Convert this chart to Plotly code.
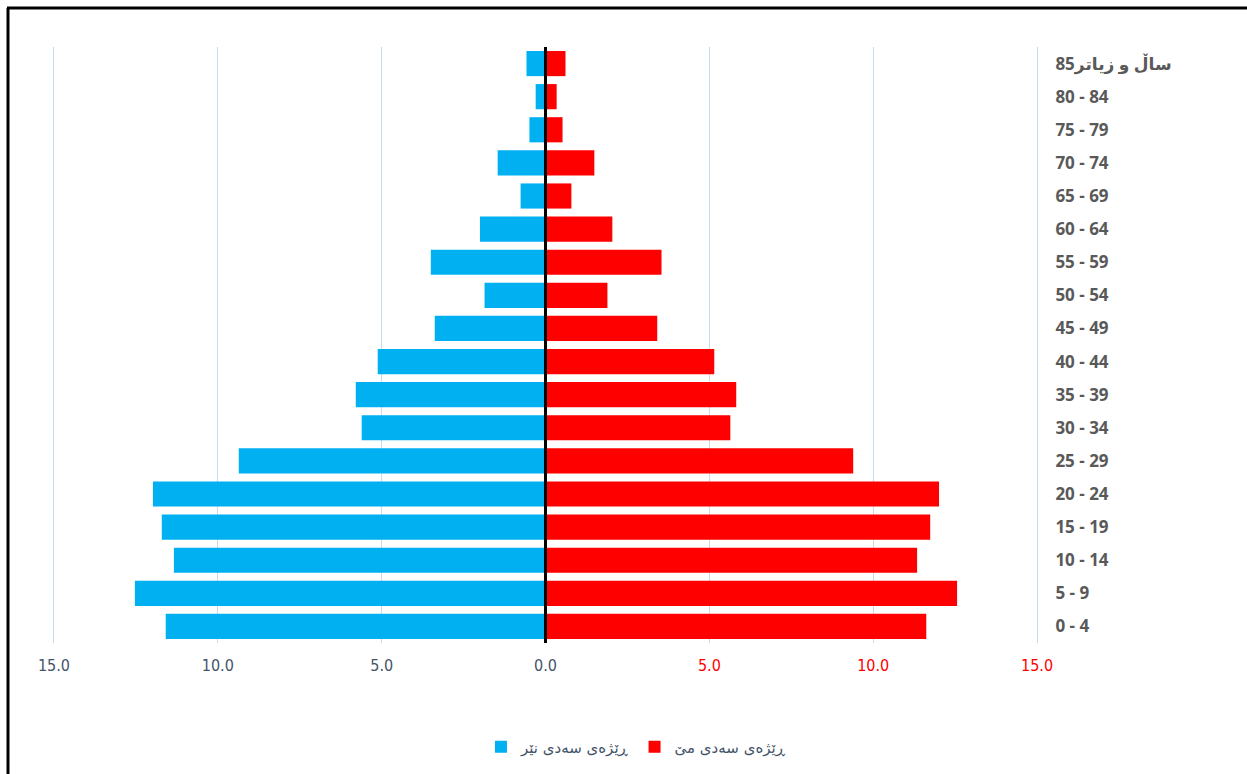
import plotly.graph_objects as go

age_groups = ["0 - 4", "5 - 9", "10 - 14", "15 - 19", "20 - 24", "25 - 29", "30 - 34",
              "35 - 39", "40 - 44", "45 - 49", "50 - 54", "55 - 59", "60 - 64",
              "65 - 69", "70 - 74", "75 - 79", "80 - 84", "\u200e85ساڵ و زیاتر"]
male = [11.59, 12.53, 11.34, 11.71, 11.98, 9.36, 5.61, 5.79, 5.12, 3.38, 1.86, 3.5, 2.0,
        0.76, 1.46, 0.49, 0.3, 0.58]
female = [11.62, 12.56, 11.34, 11.74, 12.01, 9.39, 5.64, 5.82, 5.15, 3.41, 1.89, 3.54, 2.04,
          0.79, 1.49, 0.52, 0.34, 0.61]
male_name = "ڕێژەی سەدی نێر"
female_name = "ڕێژەی سەدی مێ"
tick_vals = [-15, -10, -5, 0, 5, 10, 15]
tick_text = ["<span style='color:#44546A'>15.0</span>", "<span style='color:#44546A'>10.0</span>",
             "<span style='color:#44546A'>5.0</span>", "<span style='color:#44546A'>0.0</span>",
             "<span style='color:#FF0000'>5.0</span>", "<span style='color:#FF0000'>10.0</span>",
             "<span style='color:#FF0000'>15.0</span>"]

fig = go.Figure()
fig.add_trace(go.Bar(y=age_groups, x=[-v for v in male], orientation="h", name=male_name,
                     marker=dict(color="#00B0F0", line=dict(width=0))))
fig.add_trace(go.Bar(y=age_groups, x=female, orientation="h", name=female_name,
                     marker=dict(color="#FF0000", line=dict(width=0))))

W, H = 1247, 774
L, R, T, B = 52, 208, 47, 131
pw = W - L - R
ph = H - T - B

def px_x(p):
    return (p - L) / pw

def px_y(p):
    return 1 - (p - T) / ph

fig.update_layout(
    width=W, height=H,
    margin=dict(l=L, r=R, t=T, b=B),
    paper_bgcolor="white", plot_bgcolor="white",
    barmode="overlay", bargap=0.24,
    showlegend=True,
    legend=dict(orientation="h", xref="container", yref="container", x=0.51, y=0.035,
                xanchor="center", yanchor="middle",
                font=dict(family="DejaVu Sans", size=15, color="#44546A"),
                itemwidth=30, traceorder="normal"),
    xaxis=dict(range=[-15.06, 15.06], tickvals=tick_vals, ticktext=tick_text,
               showgrid=True, gridcolor="#C9DBF2", gridwidth=1, zeroline=False,
               showline=False, ticks="outside", ticklen=8, tickcolor="rgba(0,0,0,0)",
               tickfont=dict(family="DejaVu Sans Condensed, Liberation Sans Narrow, Roboto Condensed, Roboto",
                             size=16)),
    yaxis=dict(side="right", showgrid=False, zeroline=False, showline=False,
               ticks="outside", ticklen=12, tickcolor="rgba(0,0,0,0)",
               tickfont=dict(family="Open Sans, DejaVu Sans", size=17, color="#595959",
                             weight="bold"),
               range=[-0.5, 17.5]),
    shapes=[
        dict(type="line", xref="x", yref="paper", x0=0, x1=0, y0=px_y(643), y1=1.0,
             line=dict(color="black", width=3), layer="above"),
        dict(type="line", xref="paper", yref="paper", x0=px_x(8), x1=px_x(8),
             y0=px_y(8), y1=px_y(780), line=dict(color="black", width=3), layer="above"),
        dict(type="line", xref="paper", yref="paper", x0=px_x(7), x1=px_x(1260),
             y0=px_y(8), y1=px_y(8), line=dict(color="black", width=3), layer="above"),
    ],
)

fig.write_html("out.html", config={"displayModeBar": False},
               post_script="document.body.style.margin='0px';document.body.style.overflow='hidden';")
